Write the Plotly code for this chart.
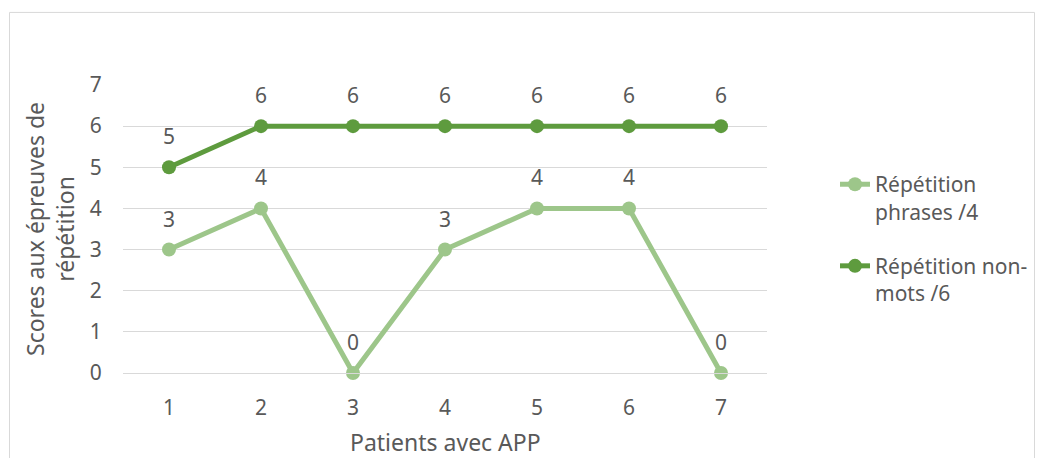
import plotly.graph_objects as go

patients = [1, 2, 3, 4, 5, 6, 7]
phrases = [3, 4, 0, 3, 4, 4, 0]
nonmots = [5, 6, 6, 6, 6, 6, 6]
y_ticks = [0, 1, 2, 3, 4, 5, 6, 7]
name_phrases = "Répétition<br>phrases /4"
name_nonmots = "Répétition non-<br>mots /6"
x_title = "Patients avec APP"
y_title = "Scores aux épreuves de<br>répétition"

FONT = "Noto Sans"
GRAY = "#595959"
GRID = "#D9D9D9"
LIGHT = "#9DC68A"
DARK = "#5E9B3E"

fig = go.Figure()
fig.add_trace(go.Scatter(
    x=patients, y=phrases, name=name_phrases, mode="lines+markers",
    line=dict(color=LIGHT, width=5), marker=dict(color=LIGHT, size=14),
    legendgroup="a", cliponaxis=False))
fig.add_trace(go.Scatter(
    x=patients, y=nonmots, name=name_nonmots, mode="lines+markers",
    line=dict(color=DARK, width=5), marker=dict(color=DARK, size=14),
    legendgroup="b", cliponaxis=False))

annotations = []
for series in (phrases, nonmots):
    for xc, v in zip(patients, series):
        annotations.append(dict(
            x=xc, y=v, xref="x", yref="y", text=str(v), showarrow=False,
            yanchor="middle", xanchor="center", yshift=31,
            font=dict(family=FONT, size=21, color=GRAY)))

annotations.append(dict(
    x=0.5, y=-0.241, xref="paper", yref="paper", text=x_title, showarrow=False,
    xanchor="center", yanchor="middle", font=dict(family=FONT, size=23, color=GRAY)))
annotations.append(dict(
    x=-0.1134, y=0.5, xref="paper", yref="paper", text=y_title, showarrow=False,
    textangle=-90, xanchor="center", yanchor="middle",
    font=dict(family=FONT, size=23, color=GRAY)))

# chart border
L, R, T, B = 123, 767, 85, 372.7
W, H = R - L, B - T
def px_x(p):
    return (p - L) / W
def px_y(p):
    return (B - p) / H

fig.update_layout(
    width=1046, height=458,
    margin=dict(l=123, r=279, t=85, b=85),
    paper_bgcolor="white", plot_bgcolor="white",
    font=dict(family=FONT, size=21, color=GRAY),
    showlegend=True,
    legend=dict(x=px_x(835), y=px_y(164), xanchor="left", yanchor="top",
                font=dict(family=FONT, size=21, color=GRAY),
                tracegroupgap=24, valign="top", bgcolor="rgba(0,0,0,0)"),
    annotations=annotations,
    shapes=[dict(type="rect", xref="paper", yref="paper",
                 x0=px_x(9.5), x1=px_x(1034.5), y0=px_y(470), y1=px_y(12.5),
                 line=dict(color=GRID, width=1), fillcolor="rgba(0,0,0,0)", layer="below")],
    xaxis=dict(range=[0.5, 7.5], tickvals=patients, showgrid=False, zeroline=False,
               showline=True, linecolor=GRID, linewidth=1,
               ticks="outside", ticklen=16, tickcolor="rgba(0,0,0,0)",
               tickfont=dict(family=FONT, size=21, color=GRAY), fixedrange=True),
    yaxis=dict(range=[0, 7], tickvals=y_ticks, showgrid=True, gridcolor=GRID, gridwidth=1,
               zeroline=False, showline=False,
               ticks="outside", ticklen=16, tickcolor="rgba(0,0,0,0)",
               tickfont=dict(family=FONT, size=21, color=GRAY), fixedrange=True),
)

fig.write_html("out.html", config={"displayModeBar": False},
               post_script="document.body.style.margin='0';document.body.style.padding='0';")
